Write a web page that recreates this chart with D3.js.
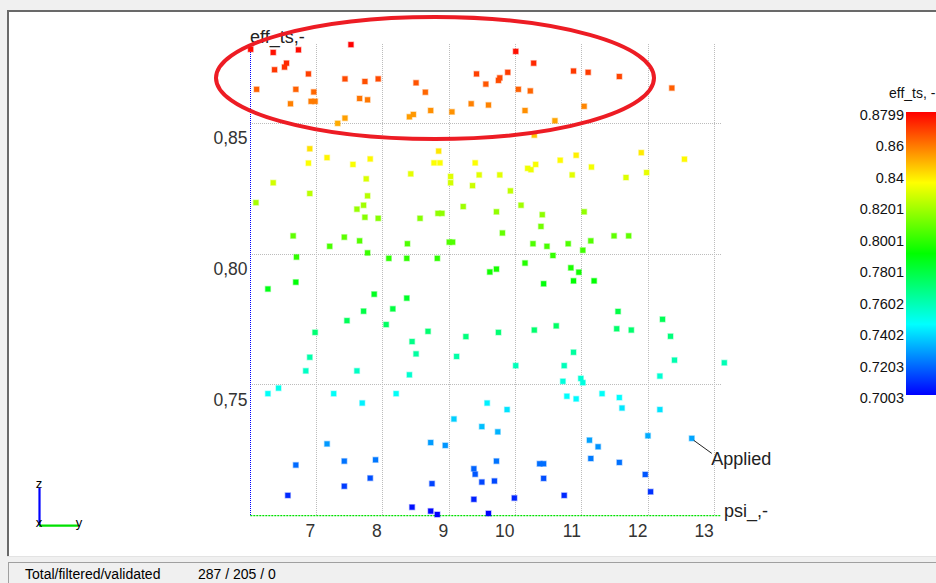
<!DOCTYPE html>
<html>
<head>
<meta charset="utf-8">
<script src="https://cdn.jsdelivr.net/npm/d3@7"></script>
<style>
  html, body { margin: 0; padding: 0; background: #f0f0f0; }
  svg { display: block; font-family: "Liberation Sans", Arial, sans-serif; }
</style>
</head>
<body>
<svg id="chart" width="936" height="583"></svg>
<script>
// psi (horizontal) and eff_ts (vertical) for each filtered design point
const psi = [
  6.02, 6.36, 6.74, 7.53, 6.56, 6.53, 6.38, 6.89, 7.44, 7.74, 7.94, 6.11, 6.70, 6.97, 6.62,
  6.93, 6.99, 7.66, 7.78, 7.44, 7.33, 8.51, 8.65, 8.41, 8.47, 8.73, 9.05, 9.34, 9.42, 9.56,
  9.60, 9.75, 9.77, 9.89, 10.01, 10.28, 10.05, 10.23, 10.15, 10.60, 10.88, 11.10, 11.04, 11.57, 12.36,
  10.29, 6.91, 6.89, 7.17, 7.56, 7.82, 8.85, 8.78, 8.87, 9.40, 9.46, 8.43, 9.03, 9.03, 9.36,
  7.76, 6.36, 6.10, 6.91, 7.78, 7.72, 7.62, 7.74, 7.94, 8.57, 8.84, 8.90, 9.22, 6.66, 7.43,
  7.21, 7.66, 7.78, 8.38, 9.01, 9.06, 6.71, 8.10, 8.37, 8.83, 11.90, 10.92, 10.31, 10.68, 12.55,
  10.19, 10.24, 11.15, 9.77, 10.86, 11.98, 11.67, 9.93, 10.09, 9.72, 10.41, 11.04, 10.39, 9.81, 11.49,
  11.71, 10.27, 10.48, 10.80, 11.14, 11.02, 10.57,
  10.15, 9.62, 9.72, 10.84, 10.96, 6.70, 6.28, 7.88, 8.37, 7.72, 8.16, 7.47, 8.06, 8.69, 6.99,
  9.26, 8.45, 6.91, 8.51, 9.12, 6.85, 7.62, 8.41, 10.43, 10.88, 11.19, 11.55, 12.22, 9.75, 10.29,
  10.62, 11.53, 11.75, 12.34, 10.88, 10.01, 10.74, 12.40, 13.15, 12.18, 10.72, 10.99, 11.02,
  6.28, 6.44, 7.27, 7.70, 8.21, 9.58, 9.08, 9.50, 7.17, 8.73, 8.95, 6.70, 7.43, 7.90, 7.82,
  7.43, 8.75, 9.38, 9.40, 9.50, 6.58, 9.38, 8.45, 8.73, 8.83, 10.78, 10.92, 11.31, 11.57, 11.61,
  12.18, 9.88, 9.74, 11.12, 11.25, 12.00, 12.66, 9.72, 10.37, 10.43, 11.14, 11.57, 9.69, 10.43, 11.96,
  9.99, 10.74, 12.04, 9.60
];
const eff = [
  0.8781, 0.8769, 0.8779, 0.8799, 0.8728, 0.8713, 0.8703, 0.8687, 0.8668, 0.8658, 0.8668, 0.8628, 0.8628, 0.8618, 0.8573,
  0.8582, 0.8582, 0.8593, 0.8588, 0.8518, 0.8498, 0.8653, 0.8617, 0.8523, 0.8532, 0.8547, 0.8542, 0.8573, 0.8687, 0.8648,
  0.8568, 0.8662, 0.8672, 0.8693, 0.8773, 0.8728, 0.8628, 0.8622, 0.8547, 0.8508, 0.8698, 0.8693, 0.8563, 0.8677, 0.8633,
  0.8453, 0.8401, 0.8346, 0.8367, 0.8341, 0.8362, 0.8392, 0.8347, 0.8347, 0.8347, 0.8301, 0.8305, 0.8295, 0.8271, 0.8260,
  0.8286, 0.8271, 0.8195, 0.8230, 0.8221, 0.8185, 0.8170, 0.8139, 0.8135, 0.8135, 0.8154, 0.8154, 0.8180, 0.8068, 0.8063,
  0.8028, 0.8049, 0.8003, 0.8038, 0.8044, 0.8044, 0.7987, 0.7982, 0.7982, 0.7982, 0.8386, 0.8376, 0.8341, 0.8357, 0.8361,
  0.8326, 0.8321, 0.8331, 0.8301, 0.8301, 0.8310, 0.8291, 0.8240, 0.8185, 0.8160, 0.8149, 0.8160, 0.8104, 0.8079, 0.8068,
  0.8068, 0.8038, 0.8028, 0.8038, 0.8049, 0.8013, 0.7993,
  0.7964, 0.7930, 0.7941, 0.7946, 0.7929, 0.7891, 0.7865, 0.7845, 0.7830, 0.7780, 0.7789, 0.7744, 0.7729, 0.7703, 0.7699,
  0.7683, 0.7664, 0.7604, 0.7617, 0.7607, 0.7552, 0.7552, 0.7537, 0.7885, 0.7896, 0.7896, 0.7779, 0.7749, 0.7699, 0.7708,
  0.7724, 0.7713, 0.7708, 0.7684, 0.7623, 0.7572, 0.7572, 0.7593, 0.7583, 0.7532, 0.7512, 0.7523, 0.7507,
  0.7465, 0.7486, 0.7465, 0.7429, 0.7465, 0.7429, 0.7368, 0.7339, 0.7273, 0.7278, 0.7267, 0.7192, 0.7207, 0.7212, 0.7142,
  0.7111, 0.7121, 0.7178, 0.7157, 0.7127, 0.7076, 0.7061, 0.7031, 0.7016, 0.7003, 0.7455, 0.7445, 0.7465, 0.7450, 0.7410,
  0.7404, 0.7404, 0.7319, 0.7287, 0.7262, 0.7304, 0.7294, 0.7207, 0.7197, 0.7197, 0.7217, 0.7202, 0.7131, 0.7141, 0.7156,
  0.7066, 0.7076, 0.7090, 0.7007
];

const xTicks = [7, 8, 9, 10, 11, 12, 13];
const yTicks = [0.75, 0.80, 0.85];
const colorbarLabels = ["0.8799", "0.86", "0.84", "0.8201", "0.8001", "0.7801", "0.7602", "0.7402", "0.7203", "0.7003"];
const effRange = [0.7003, 0.8799];
const appliedPoint = { psi: 12.66, eff: 0.7294 };   // design currently applied
const statusLabel = "Total/filtered/validated";
const statusCounts = [287, 205, 0];

const svg = d3.select("#chart");

// ---- window frame ----
svg.append("rect").attr("width", 936).attr("height", 583).attr("fill", "#f0f0f0");
svg.append("rect").attr("x", 8).attr("y", 11).attr("width", 928).attr("height", 545).attr("fill", "#ffffff");
svg.append("line").attr("x1", 7).attr("x2", 936).attr("y1", 11).attr("y2", 11)
  .attr("stroke", "#696969").attr("stroke-width", 2);
svg.append("line").attr("x1", 8).attr("x2", 8).attr("y1", 10).attr("y2", 556)
  .attr("stroke", "#696969").attr("stroke-width", 2);
svg.append("line").attr("x1", 7).attr("x2", 936).attr("y1", 556.5).attr("y2", 556.5)
  .attr("stroke", "#e3e3e3").attr("stroke-width", 1);
// status bar panel
svg.append("rect").attr("x", 8.5).attr("y", 562.5).attr("width", 930).attr("height", 22)
  .attr("fill", "#f0f0f0").attr("stroke", "#a0a0a0");
svg.append("text").attr("x", 25).attr("y", 579).attr("font-size", 14).attr("fill", "#000")
  .text(statusLabel);
svg.append("text").attr("x", 198).attr("y", 579).attr("font-size", 14).attr("fill", "#000")
  .text(statusCounts.join(" / "));

// ---- scales ----
const x = d3.scaleLinear().domain([6.015, 13.1]).range([250.3, 721]);
const y = d3.scaleLinear().domain(effRange).range([514.5, 44.6]);
const hue = d3.scaleLinear().domain(effRange).range([240, 0]);
const colorOf = v => d3.hsl(hue(v), 1, 0.5).formatHex();

const plotTop = y(effRange[1]);
const plotBottom = 515.6;
const plotLeft = 250.3;
const plotRight = 721;

// ---- grid ----
const grid = svg.append("g").attr("stroke", "#bcbcbc").attr("stroke-width", 1)
  .attr("stroke-dasharray", "1,1").attr("shape-rendering", "crispEdges");
grid.selectAll("line.v").data(xTicks).join("line").attr("class", "v")
  .attr("x1", d => Math.round(x(d)) + 0.5).attr("x2", d => Math.round(x(d)) + 0.5)
  .attr("y1", plotTop - 1).attr("y2", plotBottom);
grid.selectAll("line.h").data(yTicks).join("line").attr("class", "h")
  .attr("y1", d => Math.round(y(d)) + 0.5).attr("y2", d => Math.round(y(d)) + 0.5)
  .attr("x1", plotLeft).attr("x2", plotRight + 1);

// axis lines
svg.append("line").attr("x1", plotLeft).attr("x2", plotRight)
  .attr("y1", plotBottom).attr("y2", plotBottom)
  .attr("stroke", "#00e000").attr("stroke-width", 1.4).attr("stroke-dasharray", "2,1");
svg.append("line").attr("x1", 250.5).attr("x2", 250.5)
  .attr("y1", plotTop - 1).attr("y2", plotBottom)
  .attr("stroke", "#0000ff").attr("stroke-width", 1).attr("stroke-dasharray", "1,1")
  .attr("shape-rendering", "crispEdges");

// tick labels
svg.append("g").selectAll("text").data(xTicks).join("text")
  .attr("x", d => x(d) - 0.5).attr("y", 537)
  .attr("text-anchor", "end").attr("font-size", 17.5).attr("fill", "#333")
  .text(d => d);
const yFmt = d => d3.format(".2f")(d).replace(".", ",");
svg.append("g").selectAll("text").data(yTicks).join("text")
  .attr("x", 247.5).attr("y", d => y(d) + 21.5)
  .attr("text-anchor", "end").attr("font-size", 17.5).attr("fill", "#333")
  .text(yFmt);

svg.append("text").attr("x", 724).attr("y", 516.5).attr("font-size", 18).attr("fill", "#222").text("psi_,-");
svg.append("text").attr("x", 250).attr("y", 43).attr("font-size", 18).attr("fill", "#222").text("eff_ts,-");

// ---- points ----
const pts = psi.map((p, i) => ({ p, e: eff[i] }));
const S = 5;
svg.append("g").selectAll("rect").data(pts).join("rect")
  .attr("x", d => x(d.p) - S / 2).attr("y", d => y(d.e) - S / 2)
  .attr("width", S).attr("height", S)
  .attr("fill", d => colorOf(d.e))
  .attr("stroke", d => colorOf(d.e)).attr("stroke-opacity", 0.35).attr("stroke-width", 1.4);

// "Applied" callout
const ax = x(appliedPoint.psi), ay = y(appliedPoint.eff);
svg.append("line").attr("x1", ax + 2).attr("y1", ay + 2)
  .attr("x2", ax + 20).attr("y2", ay + 15)
  .attr("stroke", "#222").attr("stroke-width", 1);
svg.append("text").attr("x", ax + 19.5).attr("y", ay + 27)
  .attr("font-size", 18).attr("fill", "#222").text("Applied");

// ---- colour bar ----
const cbX = 906, cbTop = 112, cbBottom = 395;
const defs = svg.append("defs");
const grad = defs.append("linearGradient").attr("id", "cbGrad")
  .attr("x1", 0).attr("x2", 0).attr("y1", 0).attr("y2", 1);
d3.range(0, 1.0001, 0.05).forEach(t => {
  grad.append("stop").attr("offset", t)
    .attr("stop-color", colorOf(effRange[1] - t * (effRange[1] - effRange[0])));
});
svg.append("rect").attr("x", cbX).attr("y", cbTop).attr("width", 40).attr("height", cbBottom - cbTop)
  .attr("fill", "url(#cbGrad)");
const cbPos = d3.scalePoint().domain(colorbarLabels).range([cbTop + 3, cbBottom + 3]);
svg.append("g").selectAll("text").data(colorbarLabels).join("text")
  .attr("x", 904).attr("y", d => cbPos(d) + 5)
  .attr("text-anchor", "end").attr("font-size", 14.5).attr("fill", "#111")
  .text(d => d);
svg.append("text").attr("x", 889).attr("y", 98).attr("font-size", 14).attr("fill", "#111").text("eff_ts, -");

// ---- orientation triad ----
const tri = svg.append("g");
tri.append("line").attr("x1", 39.5).attr("x2", 39.5).attr("y1", 488).attr("y2", 526)
  .attr("stroke", "#0000ff").attr("stroke-width", 2.2);
tri.append("line").attr("x1", 39).attr("x2", 78).attr("y1", 525.7).attr("y2", 525.7)
  .attr("stroke", "#00e000").attr("stroke-width", 2.2);
tri.append("text").attr("x", 39).attr("y", 488).attr("text-anchor", "middle").attr("font-size", 13).text("z");
tri.append("text").attr("x", 39).attr("y", 527).attr("text-anchor", "middle").attr("font-size", 13).text("x");
tri.append("text").attr("x", 79).attr("y", 527).attr("text-anchor", "middle").attr("font-size", 13).text("y");

// ---- highlight ellipse around the top band ----
svg.append("ellipse").attr("cx", 435).attr("cy", 78).attr("rx", 219).attr("ry", 61)
  .attr("fill", "none").attr("stroke", "#ed1c24").attr("stroke-width", 4);
</script>
</body>
</html>
